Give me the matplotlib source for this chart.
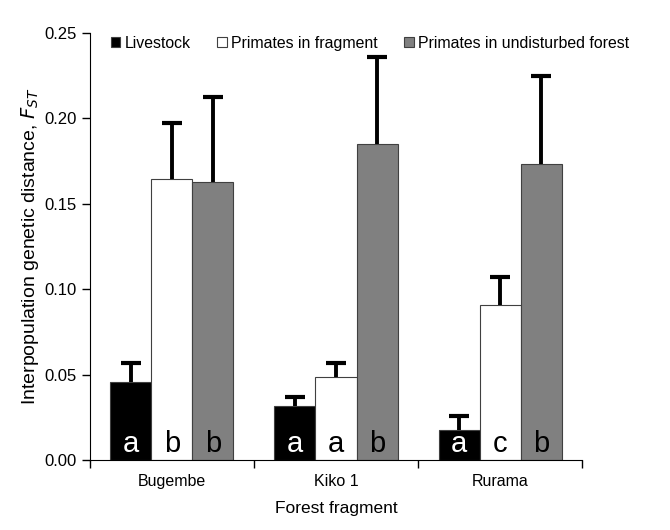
import matplotlib
matplotlib.use('Agg')
import matplotlib.pyplot as plt
from matplotlib.patches import Patch
import numpy as np

plt.rcParams['font.family'] = ['Liberation Sans', 'DejaVu Sans']

# data
fragments = ['Bugembe', 'Kiko 1', 'Rurama']
series = ['Livestock', 'Primates in fragment', 'Primates in undisturbed forest']
livestock = [0.0457, 0.0316, 0.0174]
primates_frag = [0.1647, 0.0488, 0.0905]
primates_forest = [0.1630, 0.1850, 0.1733]
livestock_err = [0.0110, 0.0055, 0.0082]
primates_frag_err = [0.0325, 0.0082, 0.0168]
primates_forest_err = [0.0495, 0.0510, 0.0515]
letters = [['a', 'a', 'a'], ['b', 'a', 'c'], ['b', 'b', 'b']]

values = [livestock, primates_frag, primates_forest]
errors = [livestock_err, primates_frag_err, primates_forest_err]
colors = ['black', 'white', '#808080']
letter_colors = ['white', 'black', 'black']

fig = plt.figure(figsize=(6.7, 5.3), dpi=100)
ax = fig.add_axes([0.134, 0.132, 0.735, 0.806])

x = np.arange(len(fragments))
width = 0.25
for i in range(3):
    xpos = x + (i - 1) * width
    ax.bar(xpos, values[i], width, color=colors[i], edgecolor='#404040',
           linewidth=0.8, zorder=2)
    # upper error bars only
    tops = np.array(values[i]) + np.array(errors[i])
    ax.vlines(xpos, values[i], tops, color='black', linewidth=2.8, zorder=3)
    ax.plot(xpos, tops, linestyle='none', marker='_', markersize=15,
            markeredgewidth=3, color='black', zorder=3)
    for j in range(len(fragments)):
        ax.text(xpos[j], 0.0045, letters[i][j], ha='center', va='baseline',
                fontsize=21, color=letter_colors[i], zorder=4)

ax.set_xlim(-0.5, 2.5)
ax.set_ylim(0, 0.25)
yt = np.arange(0, 0.26, 0.05)
ax.set_yticks(yt)
ax.set_yticklabels(['%.2f' % v for v in yt], fontsize=12)
ax.set_xticks(x)
ax.set_xticklabels(fragments, fontsize=11.5)
ax.tick_params(axis='x', which='major', length=0, pad=10)
ax.set_xticks([-0.5, 0.5, 1.5, 2.5], minor=True)
ax.tick_params(axis='x', which='minor', length=6, width=1)
ax.tick_params(axis='y', length=6, width=1)
ax.spines['top'].set_visible(False)
ax.spines['right'].set_visible(False)

ax.set_xlabel('Forest fragment', fontsize=12.5, labelpad=9)
ax.set_ylabel('Interpopulation genetic distance, $\\mathit{F_{ST}}$', fontsize=14,
              labelpad=2)

handles = [Patch(facecolor=c, edgecolor='#404040', linewidth=0.8) for c in colors]
fig.legend(handles, series, loc='upper left', bbox_to_anchor=(0.165, 0.932),
           ncol=3, frameon=False, fontsize=11.4, handlelength=0.6,
           handleheight=0.6, handletextpad=0.3, columnspacing=1.65,
           borderaxespad=0, borderpad=0)

plt.savefig('out.png')
